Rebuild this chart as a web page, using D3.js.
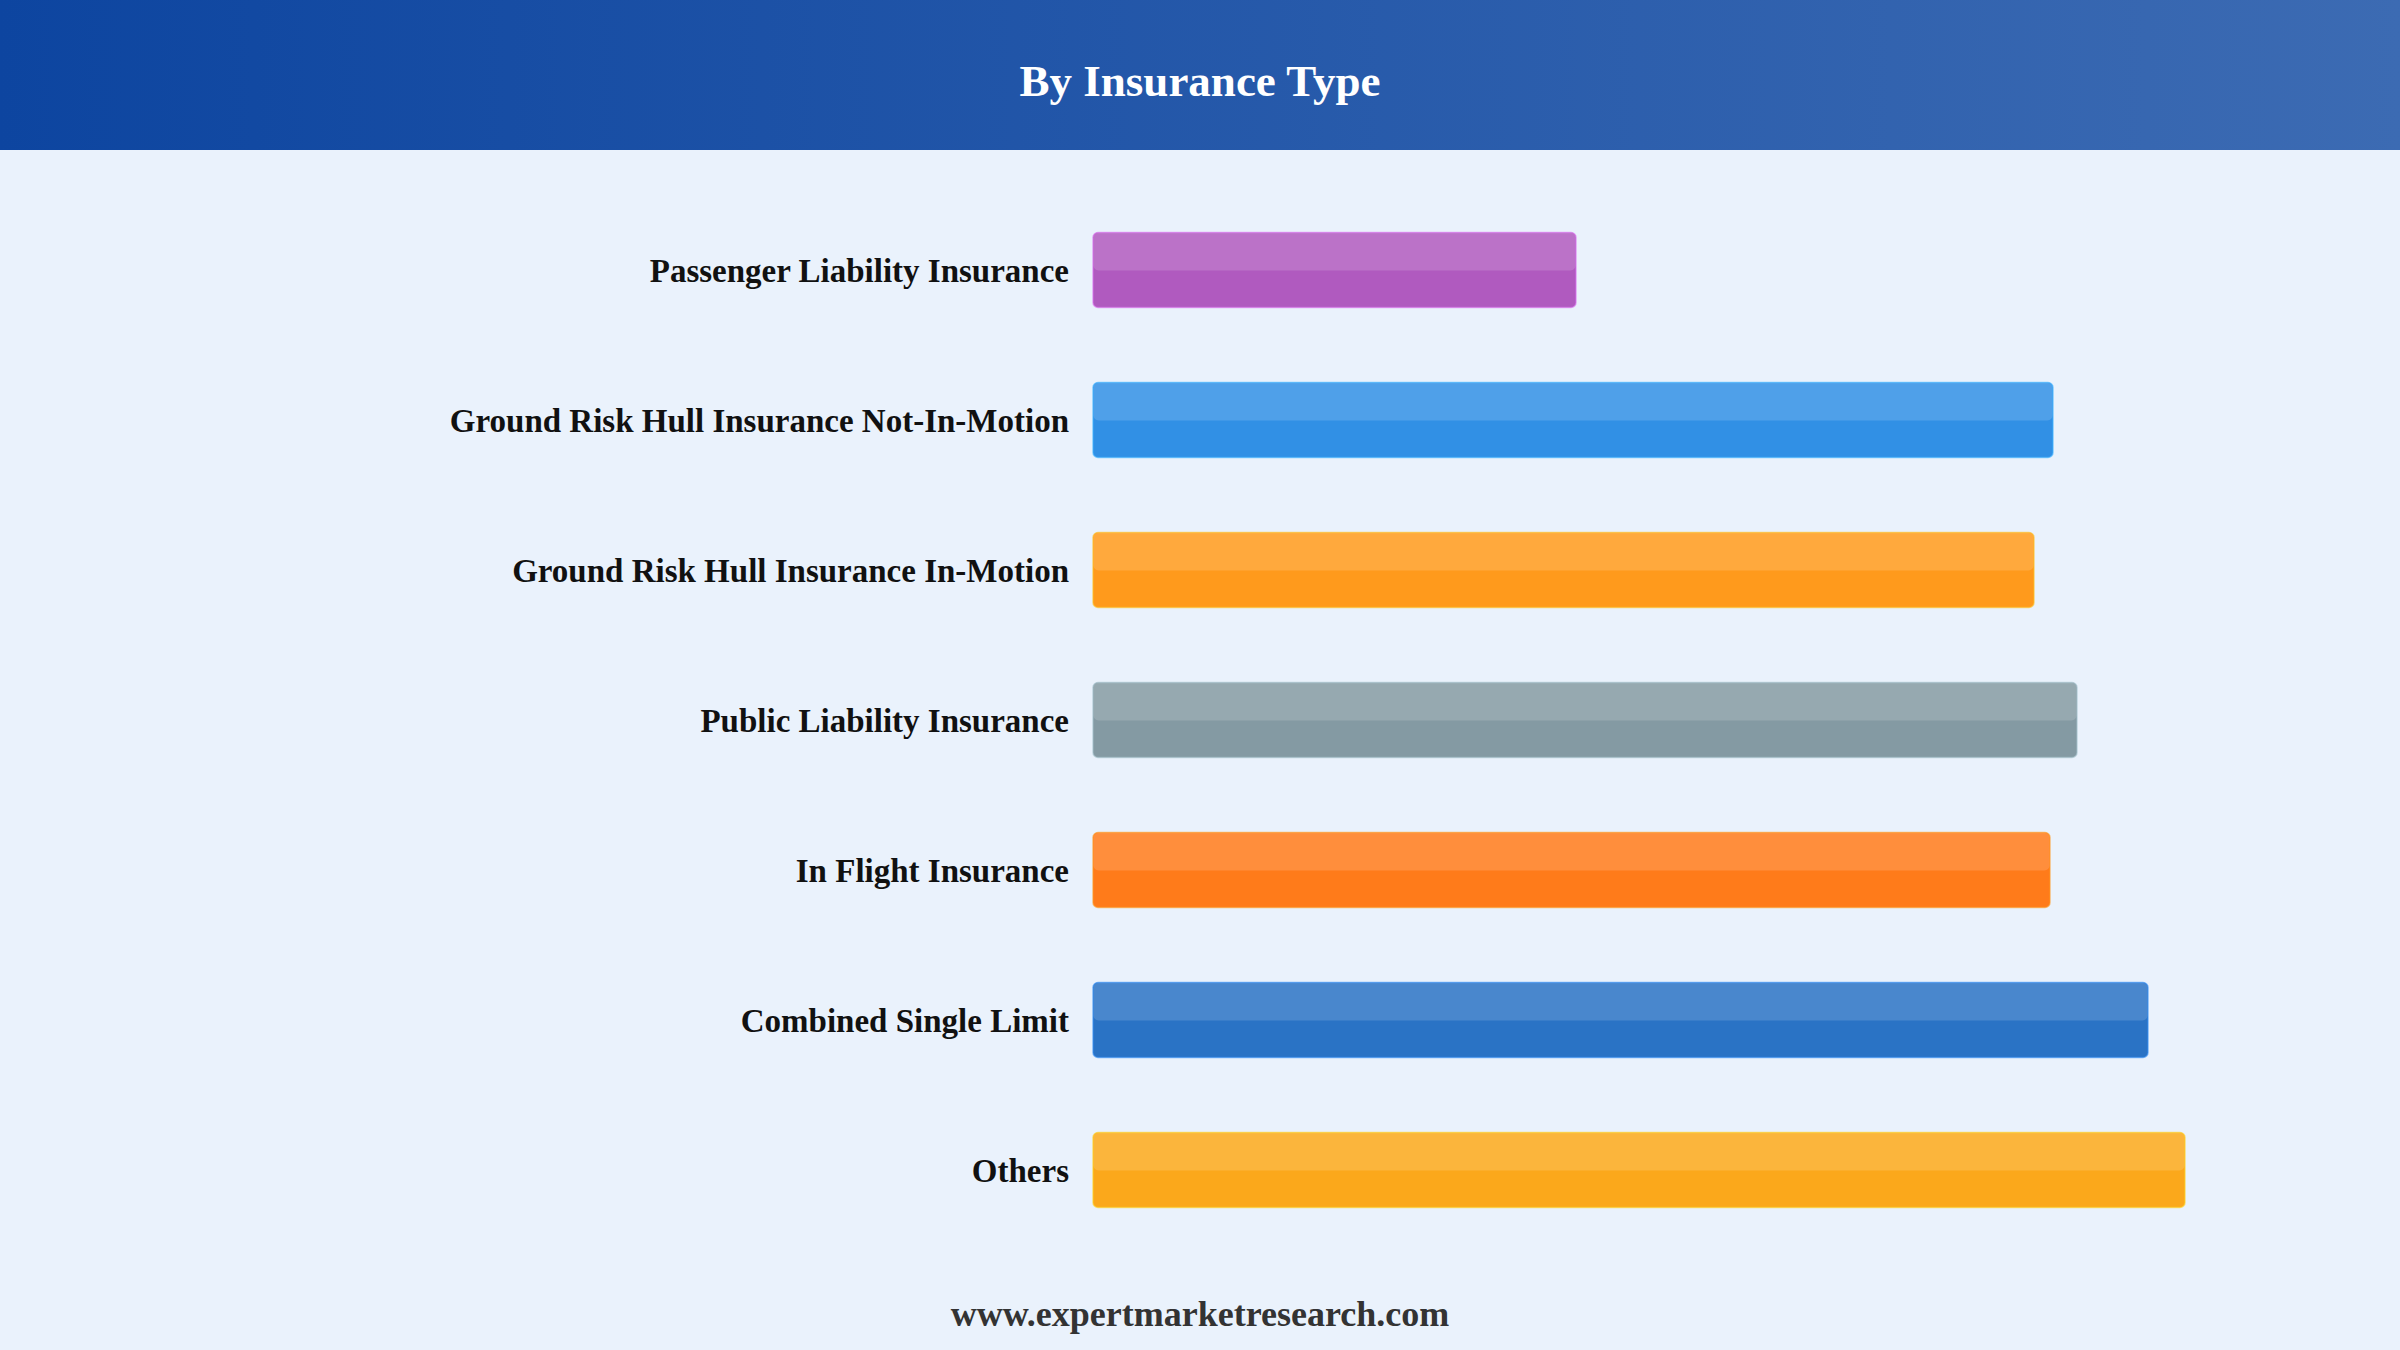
<!doctype html>
<html lang="en-US">
<head>
  <meta charset="utf-8">
  <title>By Insurance Type</title>
  <script src="https://cdn.jsdelivr.net/npm/d3@7/dist/d3.min.js"></script>
  <style>
    html, body {
      margin: 0px;
      padding: 0px;
      background: #eaf2fc;
    }
    svg {
      display: block;
    }
    text {
      font-family: "Liberation Serif", "Times New Roman", serif;
      font-weight: bold;
    }
  </style>
</head>
<body>
<svg id="chart" width="2400" height="1350"></svg>
<script>
// data (no axis shown, relative bar lengths)
var categories = [
  "Passenger Liability Insurance",
  "Ground Risk Hull Insurance Not-In-Motion",
  "Ground Risk Hull Insurance In-Motion",
  "Public Liability Insurance",
  "In Flight Insurance",
  "Combined Single Limit",
  "Others"
];
var values = [48.3, 96.0, 94.1, 98.4, 95.7, 105.5, 109.2];
var barColors = ["#b05abf", "#3190e5", "#ff9a1c", "#849aa3", "#ff7b1a", "#2a73c5", "#fba81b"];

var title = "By Insurance Type";
var footer = "www.expertmarketresearch.com";

var W = 2400, H = 1350;
var svg = d3.select("#chart");

// header band with gradient
var defs = svg.append("defs");
var grad = defs.append("linearGradient").attr("id", "hdr")
  .attr("x1", "0%").attr("x2", "100%").attr("y1", "0%").attr("y2", "0%");
grad.append("stop").attr("offset", "0%").attr("stop-color", "#0d45a0");
grad.append("stop").attr("offset", "100%").attr("stop-color", "#3c6bb3");

svg.append("rect").attr("x", 0).attr("y", 0).attr("width", W).attr("height", H).attr("fill", "#eaf2fc");
svg.append("rect").attr("x", 0).attr("y", 0).attr("width", W).attr("height", 150).attr("fill", "url(#hdr)");

svg.append("text")
  .attr("x", W / 2).attr("y", 96)
  .attr("text-anchor", "middle")
  .attr("fill", "#ffffff")
  .style("font-size", "45px")
  .text(title);

// scales
var x = d3.scaleLinear().domain([0, 120]).range([1093, 2293]);
var y = d3.scaleBand().domain(categories).range([195, 1245])
  .paddingInner(0.5).paddingOuter(0.25);

var rows = svg.append("g").selectAll("g")
  .data(categories)
  .join("g")
  .attr("transform", function(d) { return "translate(0," + y(d) + ")"; });

// bars
rows.append("rect")
  .attr("x", x(0))
  .attr("y", 0)
  .attr("width", function(d, i) { return x(values[i]) - x(0); })
  .attr("height", y.bandwidth())
  .attr("rx", 5).attr("ry", 5)
  .attr("fill", function(d, i) { return barColors[i]; })
  .attr("stroke", function(d, i) { return d3.color(barColors[i]).brighter(0.6); })
  .attr("stroke-opacity", 0.6)
  .attr("stroke-width", 1.5);

// glossy top half
rows.append("rect")
  .attr("x", x(0) + 0.5)
  .attr("y", 0.5)
  .attr("width", function(d, i) { return x(values[i]) - x(0) - 1; })
  .attr("height", y.bandwidth() / 2)
  .attr("rx", 5).attr("ry", 5)
  .attr("fill", "#ffffff")
  .attr("fill-opacity", 0.15);

// labels
rows.append("text")
  .attr("x", x(0) - 24)
  .attr("y", y.bandwidth() / 2)
  .attr("dy", "0.35em")
  .attr("text-anchor", "end")
  .attr("fill", "#111111")
  .style("font-size", "33px")
  .text(function(d) { return d; });

svg.append("text")
  .attr("x", W / 2).attr("y", 1326)
  .attr("text-anchor", "middle")
  .attr("fill", "#333333")
  .style("font-size", "36px")
  .text(footer);
</script>
</body>
</html>
